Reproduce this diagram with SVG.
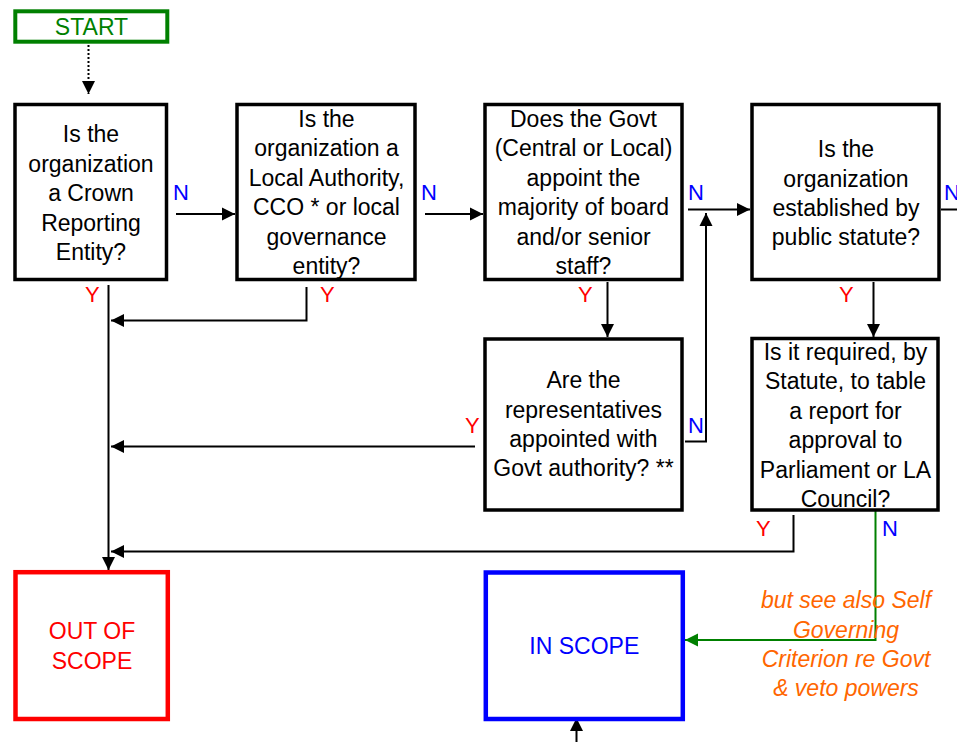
<svg xmlns="http://www.w3.org/2000/svg" width="957" height="742" viewBox="0 0 957 742">
  <style>
    .box { fill: #ffffff; stroke: #000000; stroke-width: 3.5; }
    .t { font-family: "Liberation Sans", Arial, Helvetica, sans-serif; font-size: 23px; fill: #000000; text-anchor: middle; }
    .lbl { font-family: "Liberation Sans", Arial, Helvetica, sans-serif; font-size: 22px; }
    .yes { fill: #ff0000; }
    .no { fill: #0000ff; }
    .wire { fill: none; stroke: #000000; stroke-width: 2; }
    .note { font-family: "Liberation Sans", Arial, Helvetica, sans-serif; font-size: 23px; font-style: italic; fill: #ff6600; text-anchor: middle; }
  </style>
  <defs>
    <marker id="ah" markerUnits="userSpaceOnUse" markerWidth="14" markerHeight="14" refX="13" refY="7" orient="auto">
      <path d="M0,0.5 L13,7 L0,13.5 z" fill="#000000"/>
    </marker>
    <marker id="ahg" markerUnits="userSpaceOnUse" markerWidth="14" markerHeight="14" refX="13" refY="7" orient="auto">
      <path d="M0,0.5 L13,7 L0,13.5 z" fill="#008000"/>
    </marker>
  </defs>

  <rect width="957" height="742" fill="#ffffff"/>

  <!-- connectors -->
  <g id="connectors">
    <path d="M88.5,45 V94" fill="none" stroke="#000000" stroke-width="2" stroke-dasharray="2,2" marker-end="url(#ah)"/>
    <path class="wire" d="M176,214 H235" marker-end="url(#ah)"/>
    <path class="wire" d="M425,214 H483" marker-end="url(#ah)"/>
    <path class="wire" d="M688,209.5 H750" marker-end="url(#ah)"/>
    <path class="wire" d="M685,441.5 H706 V213" marker-end="url(#ah)"/>
    <path class="wire" d="M941,209.5 H957"/>
    <path class="wire" d="M108.5,285 V570" marker-end="url(#ah)"/>
    <path class="wire" d="M306.5,287 V320.5 H111" marker-end="url(#ah)"/>
    <path class="wire" d="M607.5,282 V337" marker-end="url(#ah)"/>
    <path class="wire" d="M873.5,282 V337" marker-end="url(#ah)"/>
    <path class="wire" d="M475,446.5 H111" marker-end="url(#ah)"/>
    <path class="wire" d="M793.5,515 V551.5 H111" marker-end="url(#ah)"/>
    <path d="M875.5,511 V640 H685" fill="none" stroke="#008000" stroke-width="2" marker-end="url(#ahg)"/>
    <path class="wire" d="M576.5,742 V718" marker-end="url(#ah)"/>

    <text class="lbl no" x="173" y="200">N</text>
    <text class="lbl no" x="421" y="200">N</text>
    <text class="lbl no" x="688" y="200">N</text>
    <text class="lbl no" x="944" y="200">N</text>
    <text class="lbl yes" x="85" y="302">Y</text>
    <text class="lbl yes" x="320" y="302">Y</text>
    <text class="lbl yes" x="578" y="302">Y</text>
    <text class="lbl yes" x="839" y="302">Y</text>
    <text class="lbl yes" x="465" y="433">Y</text>
    <text class="lbl no" x="688" y="433">N</text>
    <text class="lbl yes" x="756" y="536">Y</text>
    <text class="lbl no" x="882" y="536">N</text>
  </g>

  <!-- start -->
  <g id="start">
    <rect x="15.3" y="11.3" width="152" height="30.4" fill="#ffffff" stroke="#008000" stroke-width="4"/>
    <text class="t" x="91.5" y="34.7" style="fill:#008000">START</text>
  </g>

  <g id="crown-entity">
    <rect class="box" x="15" y="104.5" width="151.5" height="175"/>
    <text class="t" x="91" y="142.3">Is the</text>
    <text class="t" x="91" y="171.7">organization</text>
    <text class="t" x="91" y="201.1">a Crown</text>
    <text class="t" x="91" y="230.5">Reporting</text>
    <text class="t" x="91" y="259.9">Entity?</text>
  </g>

  <g id="local-authority">
    <rect class="box" x="237" y="104.5" width="178" height="175"/>
    <text class="t" x="326.5" y="127">Is the</text>
    <text class="t" x="326.5" y="156.4">organization a</text>
    <text class="t" x="326.5" y="185.8">Local Authority,</text>
    <text class="t" x="326.5" y="215.2">CCO * or local</text>
    <text class="t" x="326.5" y="244.6">governance</text>
    <text class="t" x="326.5" y="274">entity?</text>
  </g>

  <g id="govt-appoints">
    <rect class="box" x="485" y="104.5" width="197" height="175"/>
    <text class="t" x="583.5" y="127">Does the Govt</text>
    <text class="t" x="583.5" y="156.4">(Central or Local)</text>
    <text class="t" x="583.5" y="185.8">appoint the</text>
    <text class="t" x="583.5" y="215.2">majority of board</text>
    <text class="t" x="583.5" y="244.6">and/or senior</text>
    <text class="t" x="583.5" y="274">staff?</text>
  </g>

  <g id="public-statute">
    <rect class="box" x="752" y="104.5" width="187" height="175"/>
    <text class="t" x="846" y="157.2">Is the</text>
    <text class="t" x="846" y="186.5">organization</text>
    <text class="t" x="846" y="215.8">established by</text>
    <text class="t" x="846" y="245.1">public statute?</text>
  </g>

  <g id="representatives">
    <rect class="box" x="485" y="339" width="197" height="171"/>
    <text class="t" x="583.5" y="388.1">Are the</text>
    <text class="t" x="583.5" y="417.5">representatives</text>
    <text class="t" x="583.5" y="446.9">appointed with</text>
    <text class="t" x="583.5" y="476.3">Govt authority? **</text>
  </g>

  <g id="report-to-parliament">
    <rect class="box" x="752" y="338.5" width="186" height="171.5"/>
    <text class="t" x="845.5" y="360">Is it required, by</text>
    <text class="t" x="845.5" y="389.4">Statute, to table</text>
    <text class="t" x="845.5" y="418.8">a report for</text>
    <text class="t" x="845.5" y="448.2">approval to</text>
    <text class="t" x="845.5" y="477.6">Parliament or LA</text>
    <text class="t" x="845.5" y="507">Council?</text>
  </g>

  <g id="out-of-scope">
    <rect x="15.5" y="572.2" width="152.3" height="146.8" fill="#ffffff" stroke="#ff0000" stroke-width="4.5"/>
    <text class="t" x="92" y="639.3" style="fill:#ff0000">OUT OF</text>
    <text class="t" x="92" y="669" style="fill:#ff0000">SCOPE</text>
  </g>

  <g id="in-scope">
    <rect x="485.8" y="572.5" width="197" height="146.5" fill="#ffffff" stroke="#0000ff" stroke-width="4.5"/>
    <text class="t" x="584.3" y="654" style="fill:#0000ff">IN SCOPE</text>
  </g>

  <g id="self-governing-note">
    <text class="note" x="846" y="608.3">but see also Self</text>
    <text class="note" x="846" y="637.6">Governing</text>
    <text class="note" x="846" y="667">Criterion re Govt</text>
    <text class="note" x="846" y="696.4">&amp; veto powers</text>
  </g>
</svg>
